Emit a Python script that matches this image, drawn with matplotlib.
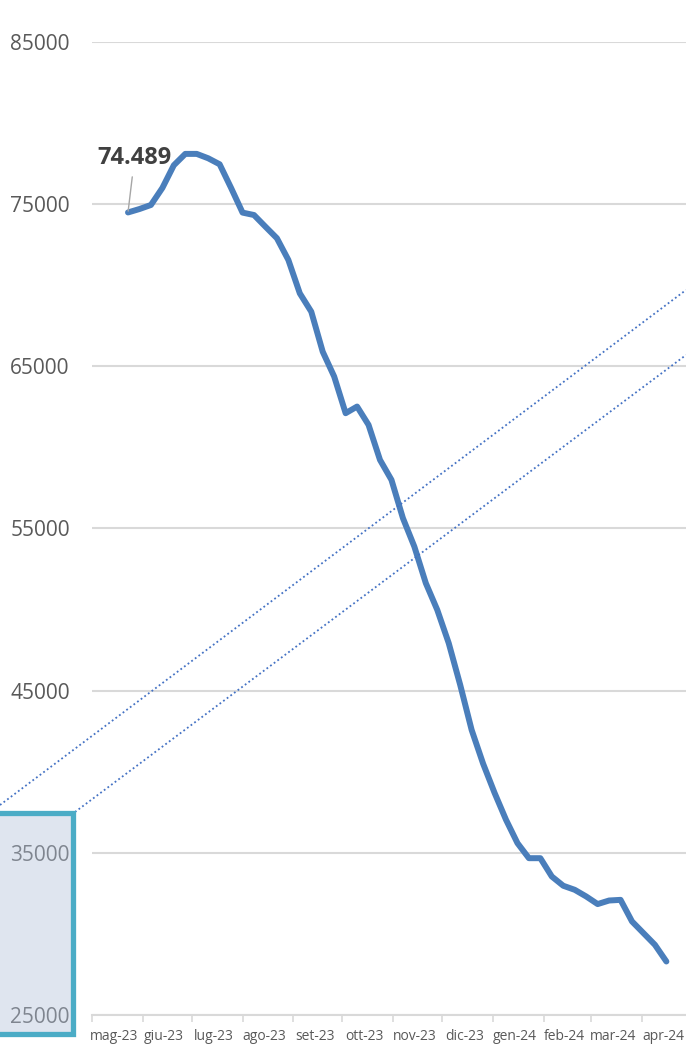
import matplotlib
matplotlib.use('Agg')
import matplotlib.pyplot as plt
import pandas as pd
from matplotlib.lines import Line2D
from matplotlib.patches import Rectangle

plt.rcParams['font.family'] = ['Open Sans', 'DejaVu Sans']

# weekly values
values = [74489, 74700, 74950, 76000, 77400, 78100, 78100, 77830, 77460, 76000,
          74480, 74330, 73610, 72900, 71560, 69500, 68370, 65900, 64370, 62110,
          62520, 61390, 59230, 58000, 55640, 53880, 51630, 49980, 47930, 45360,
          42580, 40500, 38700, 37040, 35600, 34670, 34670, 33540, 32970, 32720,
          32310, 31840, 32060, 32100, 30770, 30050, 29330, 28300]
dates = pd.date_range('2023-05-23', periods=len(values), freq='7D')

month_labels = ['mag-23', 'giu-23', 'lug-23', 'ago-23', 'set-23', 'ott-23',
                'nov-23', 'dic-23', 'gen-24', 'feb-24', 'mar-24', 'apr-24']
month_starts = pd.date_range('2023-05-01', '2024-05-01', freq='MS')
y_ticks = [25000, 35000, 45000, 55000, 65000, 75000, 85000]

W, H = 686, 1045
fig = plt.figure(figsize=(W / 100, H / 100), dpi=100)
ax = fig.add_axes([92 / W, 30 / H, 1 - 92 / W, 973 / H])

ax.plot(dates, values, color='#4a7ebb', lw=4.3, solid_joinstyle='round',
        solid_capstyle='round', zorder=3)

ax.set_ylim(25000, 85000)
ax.set_xlim(pd.Timestamp('2023-05-01'), pd.Timestamp('2024-04-28'))
ax.set_yticks(y_ticks)
ax.set_yticklabels([str(v) for v in y_ticks], fontsize=15, color='#595959')
ax.tick_params(axis='y', length=0, pad=16)
ax.grid(axis='y', color='#d9d9d9', lw=1.5, zorder=0)
ax.set_axisbelow(True)

for s in ['top', 'right', 'left']:
    ax.spines[s].set_visible(False)
ax.spines['bottom'].set_color('#d9d9d9')
ax.spines['bottom'].set_linewidth(1.5)

# labels sit roughly mid-month, a touch left of centre
mids = month_starts[:-1] + (month_starts[1:] - month_starts[:-1]) / 2 - pd.Timedelta(days=2)
ax.set_xticks(month_starts[:-1])
ax.set_xticklabels([])
ax.tick_params(axis='x', which='major', length=5, color='#d9d9d9', width=1.2)
ax.set_xticks(mids, minor=True)
ax.set_xticklabels(month_labels, minor=True, fontsize=10, color='#595959')
ax.tick_params(axis='x', which='minor', length=0, pad=10)

ax.annotate('74.489', xy=(dates[0], values[0]),
            xytext=(pd.Timestamp('2023-05-27'), 77850),
            ha='center', va='center', fontsize=17, fontweight='bold', color='#404040',
            arrowprops=dict(arrowstyle='-', color='#a6a6a6', lw=1, shrinkA=3, shrinkB=1),
            zorder=4)

# dotted connector lines
fig.add_artist(Line2D([0, 1], [1 - 805 / H, 1 - 290 / H], transform=fig.transFigure,
                      ls=(0, (1, 1.5)), color='#4472c4', lw=1.3, zorder=4))
fig.add_artist(Line2D([75 / W, 1], [1 - 812 / H, 1 - 355 / H], transform=fig.transFigure,
                      ls=(0, (1, 1.5)), color='#4472c4', lw=1.3, zorder=4))

# highlight box at lower left
fig.add_artist(Rectangle((-0.05, 1 - 1034 / H), 0.05 + 73 / W, 221 / H,
                         transform=fig.transFigure, facecolor='#b4c3db', alpha=0.42,
                         edgecolor='none', zorder=5))
fig.add_artist(Rectangle((-0.05, 1 - 1034 / H), 0.05 + 73 / W, 221 / H,
                         transform=fig.transFigure, facecolor='none',
                         edgecolor='#4bacc6', lw=3.8, zorder=6))

fig.savefig('out.png', dpi=100)
